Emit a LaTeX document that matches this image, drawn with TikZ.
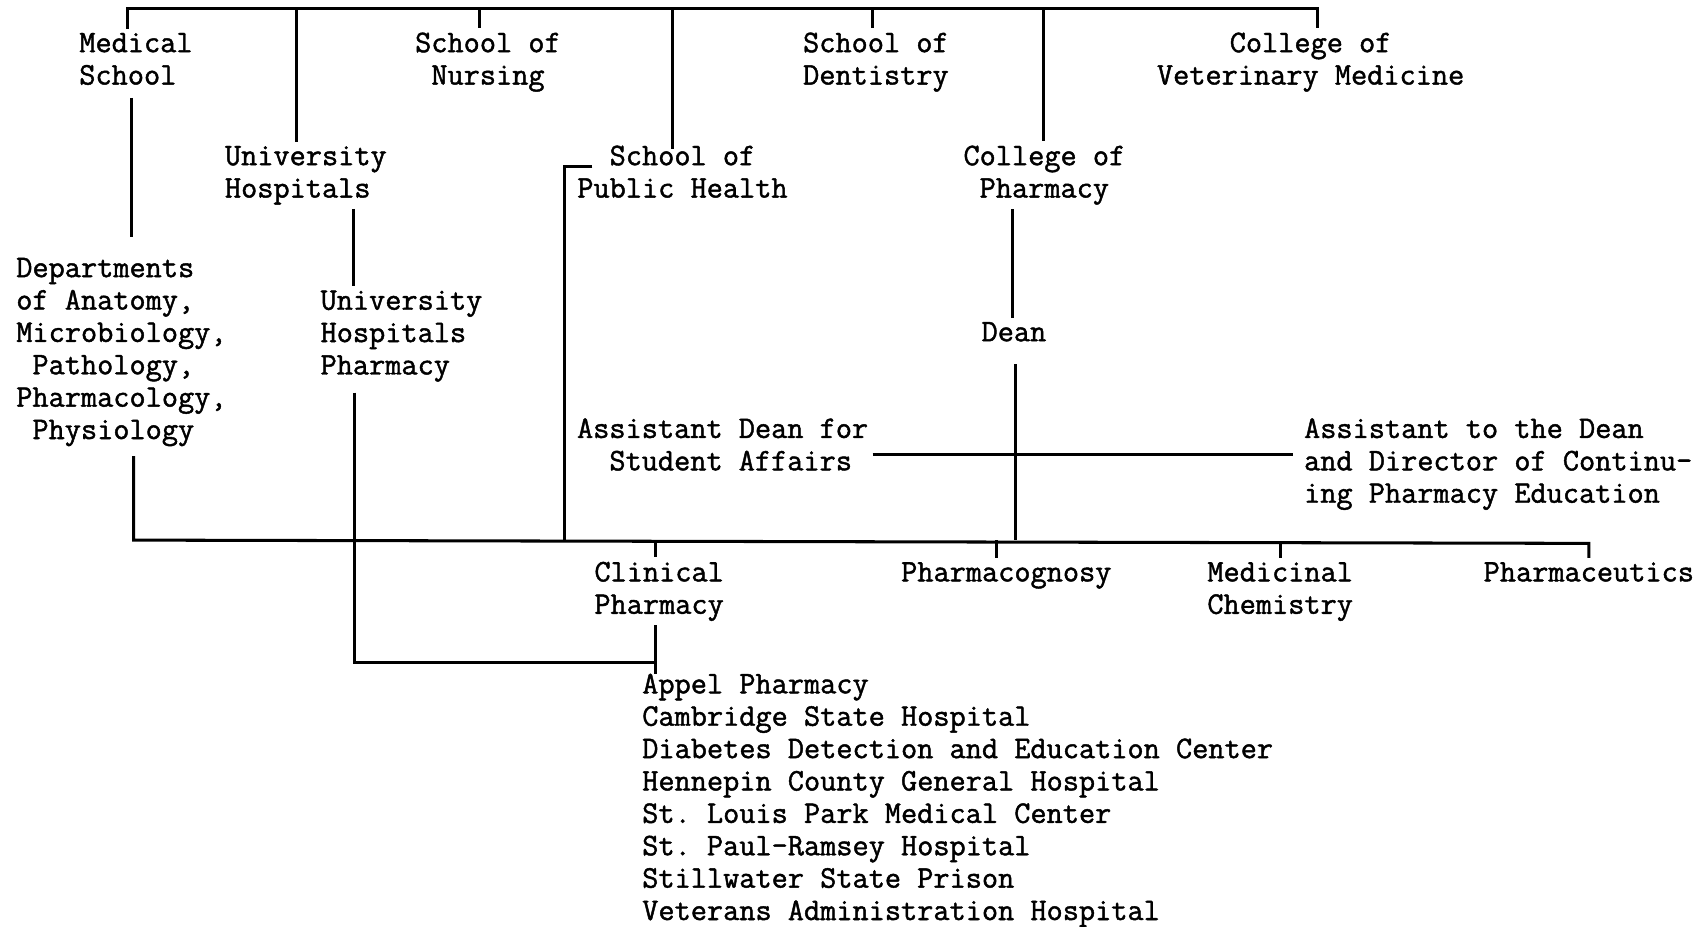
\documentclass[tikz,border=0pt]{standalone}
\usepackage{fontspec}
\setmonofont{Latin Modern Mono}[FakeBold=1.4]
\usepackage{tikz}
\tikzset{
  orgtext/.style={font=\ttfamily\fontsize{28.9}{29.8}\selectfont, inner sep=0pt, outer sep=4pt},
  orgline/.style={line width=2.8pt, line join=miter},
}

\begin{document}
\begin{tikzpicture}[x=1pt,y=-1pt]
  \useasboundingbox (0,0) rectangle (1568,853);
  {
  % Placing the units of the health sciences
  \node[orgtext, anchor=base west, align=left] (med) at (69,77.8) {Medical\\School};
  \node[orgtext, anchor=base, align=center] (nurs) at (449,77.8) {School of\\Nursing};
  \node[orgtext, anchor=base, align=center] (dent) at (806,77.8) {School of\\Dentistry};
  \node[orgtext, anchor=base, align=center] (vet) at (1206,77.8) {College of\\Veterinary Medicine};
  \node[orgtext, anchor=base west, align=left] (uh) at (203,181.8) {University\\Hospitals};
  \node[orgtext, anchor=base, align=center] (ph) at (628,181.8) {School of\\Public Health};
  \node[orgtext, anchor=base, align=center] (cop) at (961,181.8) {College of\\Pharmacy};

  % Placing the third row
  \node[orgtext, anchor=base west, align=left] (dept) at (11,404)
    {Departments\\of Anatomy,\\Microbiology,\\\hphantom{P}Pathology,\\Pharmacology,\\\hphantom{P}Physiology};
  \node[orgtext, anchor=base west, align=left] (uhp) at (291,344.6) {University\\Hospitals\\Pharmacy};
  \node[orgtext, anchor=base] (dean) at (933,314) {Dean};
  \node[orgtext, anchor=base west, align=left] (asd) at (527,432.8) {Assistant Dean for\\\hphantom{St}Student Affairs};
  \node[orgtext, anchor=base west, align=left] (asto) at (1196,462.6)
    {Assistant to the Dean\\and Director of Continu-\\ing Pharmacy Education};

  % Placing the departments of the college
  \node[orgtext, anchor=base west, align=left] (clin) at (543,564.8) {Clinical\\Pharmacy};
  \node[orgtext, anchor=base] (pcog) at (926,535) {Pharmacognosy};
  \node[orgtext, anchor=base west, align=left] (medchem) at (1107,564.8) {Medicinal\\Chemistry};
  \node[orgtext, anchor=base] (pce) at (1462,535) {Pharmaceutics};
  \node[orgtext, anchor=base west, align=left] (sites) at (587,846.6)
    {Appel Pharmacy\\Cambridge State Hospital\\Diabetes Detection and Education Center\\
     Hennepin County General Hospital\\St. Louis Park Medical Center\\St. Paul-Ramsey Hospital\\
     Stillwater State Prison\\Veterans Administration Hospital};

  % Drawing top bar
  \coordinate (tmed) at (117,8);
  \coordinate (tuh) at (273,8);
  \coordinate (tnurs) at (441,8);
  \coordinate (tph) at (619,8);
  \coordinate (tdent) at (803,8);
  \coordinate (tcop) at (960,8);
  \coordinate (tvet) at (1212,8);
  \draw[orgline] (tmed |- med.north) -- (tmed) -- (tvet) -- (tvet |- vet.north);
  \foreach \t/\n in {tuh/uh, tnurs/nurs, tdent/dent, tcop/cop}
    \draw[orgline] (\t) -- (\t |- \n.north);
  \draw[orgline] (tph) -- ([yshift=-7pt]tph |- ph.north);

  % Drawing line Medical School to Departments
  \coordinate (dmed) at (121,0);
  \draw[orgline] ([yshift=-8pt]dmed |- med.south) -- ([yshift=15pt]dmed |- dept.north);

  % Drawing line University Hospitals to its pharmacy
  \coordinate (duh) at (325,0);
  \draw[orgline] (duh |- uh.south) -- (duh |- uhp.north);

  % Drawing line College of Pharmacy to Dean
  \coordinate (ddean) at (932,0);
  \draw[orgline] (ddean |- cop.south) -- (ddean |- dean.north);

  % Drawing bottom bar
  \coordinate (bdept) at (123,497);
  \coordinate (bph) at (519,497);
  \coordinate (bclin) at (603,497);
  \coordinate (bpcog) at (917,497);
  \coordinate (bdean) at (934,497);
  \coordinate (bmc) at (1178,499);
  \coordinate (bpce) at (1462,500);
  \draw[orgline] ([yshift=-5pt]bdept |- dept.south) -- (bdept) -- (bpce) -- (bpce |- pce.north);
  \foreach \b/\n in {bclin/clin, bpcog/pcog, bmc/medchem}
    \draw[orgline] (\b) -- (\b |- \n.north);
  \draw[orgline] ([yshift=-17pt]bdean |- dean.south) -- (bdean);

  % Drawing line Public Health to bottom bar
  \coordinate (sph) at (519,153);
  \coordinate (phstub) at (545,153);
  \draw[orgline] (phstub) -- (sph) -- (bph);

  % Drawing line of the assistants
  \coordinate (hasd) at (0,418);
  \draw[orgline] (asd.east |- hasd) -- ([xshift=-6pt]asto.west |- hasd);

  % Drawing line Hospitals Pharmacy to Clinical Pharmacy
  \coordinate (cuhp) at (326,610);
  \coordinate (cclin) at (603,610);
  \draw[orgline] ([yshift=-6pt]cuhp |- uhp.south) -- (cuhp) -- (cclin);
  \draw[orgline] (cclin |- clin.south) -- ([yshift=-4pt]cclin |- sites.north);
  }
\end{tikzpicture}
\end{document}
